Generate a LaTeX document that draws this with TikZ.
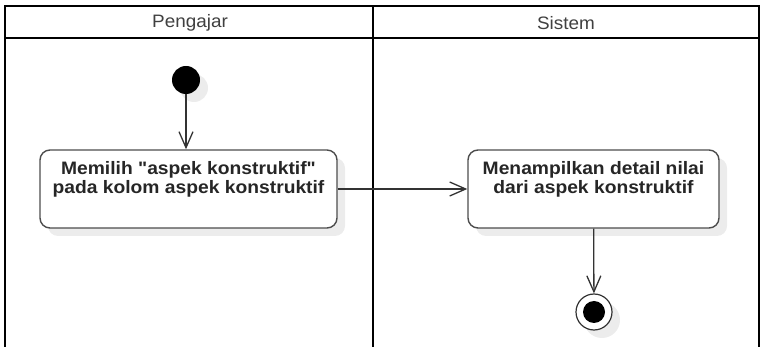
\documentclass[tikz,border=0pt]{standalone}
\usepackage{fontspec}
\newfontfamily\lanefont[FakeStretch=1.05]{Liberation Sans}
\newfontfamily\actfont[FakeStretch=1.07]{Liberation Sans}
\usetikzlibrary{positioning, arrows.meta, shadows}
\definecolor{edge}{HTML}{333333}
\definecolor{rim}{HTML}{4d4d4d}
\definecolor{shade}{HTML}{ececec}

\begin{document}
\begin{tikzpicture}[x=1pt, y=-1pt,
  lane/.style={line width=2pt, black},
  head/.style={font=\lanefont\fontsize{18}{20}\selectfont, text=black!75, inner sep=0pt},
  shd/.style={drop shadow={shadow xshift=8pt, shadow yshift=-8pt, fill=shade, opacity=1}},
  act/.style={draw=rim, line width=1.4pt, rounded corners=10pt, fill=white, minimum height=78pt, shd},
  lbl/.style={font=\actfont\bfseries\fontsize{18}{19}\selectfont, text=black!85, align=center, inner sep=0pt},
  begindot/.style={circle, fill=black, minimum size=28pt, inner sep=0pt, shd},
  enddot/.style={circle, draw=edge, line width=1.2pt, fill=white, minimum size=36pt, inner sep=0pt, shd,
    path picture={\fill[black] (path picture bounding box.center) circle (11pt);}},
  flow/.style={-{Straight Barb[length=16pt, width=14pt]}, line width=1.3pt, edge}
]
  \useasboundingbox (0,0) rectangle (761,347);

  % swimlanes
  \draw[lane] (5,347) -- (5,6) -- (759,6) -- (759,347);
  \draw[lane] (5,38) -- (759,38);
  \draw[lane] (373,6) -- (373,347);
  \node[head] (pengajar) at (190,23) {Pengajar};
  \node[head] (sistem) at (566,23) {Sistem};

  \node[begindot] (mulai) at (186,80) {};
  \node[act, minimum width=297pt] (pilih) at (188.5,189) {};
  \node[lbl, below=12pt of pilih.north] (pilihtxt) {Memilih "aspek konstruktif"\\pada kolom aspek konstruktif};
  \node[act, minimum width=251pt] (tampil) at (593.5,189) {};
  \node[lbl, below=12pt of tampil.north] (tampiltxt) {Menampilkan detail nilai\\dari aspek konstruktif};
  \node[enddot] (selesai) at (594,312) {};

  \draw[flow] (mulai) -- (mulai |- pilih.north);
  \draw[flow] (pilih) -- (tampil);
  \draw[flow] (tampil) -- (selesai);
\end{tikzpicture}
\end{document}
